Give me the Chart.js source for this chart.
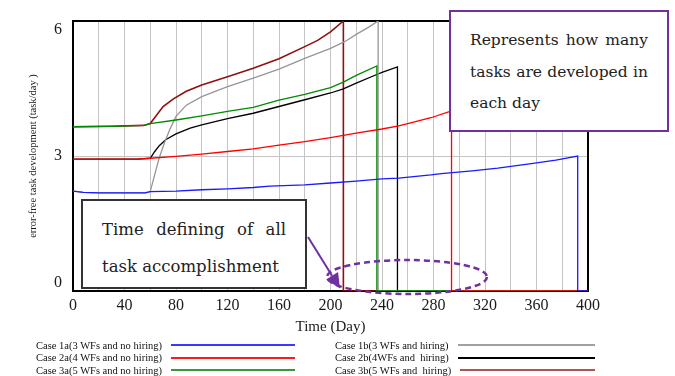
<!DOCTYPE html>
<html>
<head>
<meta charset="utf-8">
<script src="https://cdn.jsdelivr.net/npm/chart.js@4.4.1/dist/chart.umd.min.js"></script>
<style>
  body { margin: 0; background: #fff; }
  #marco { position: relative; width: 675px; height: 376px; overflow: hidden; }
  #grafico { position: absolute; left: 0; top: 0; }
  .nota { position: absolute; background: #fff; box-sizing: border-box; font-family: "DejaVu Serif", serif; color: #222; white-space: nowrap; }
  #nota1 { left: 81px; top: 199px; width: 226px; height: 90px; border: 2px solid #333; padding: 11px 19px 0 19px; font-size: 16.5px; line-height: 36.7px; }
  #nota2 { left: 449px; top: 10px; width: 220px; height: 122px; border: 2px solid #7030a0; padding: 13px 19px 0 19px; font-size: 15.5px; line-height: 31.7px; }
  .justo { text-align: justify; text-align-last: justify; }
  .columna { position: absolute; top: 339px; font-family: "Liberation Serif", serif; font-size: 10.5px; color: #111; }
  .fila { display: flex; align-items: center; height: 12.5px; }
  .fila span { white-space: pre; }
  .fila i { flex: 1; height: 2px; margin-left: 9px; }
</style>
</head>
<body>
<div id="marco">
  <canvas id="grafico" width="675" height="376"></canvas>
  <div class="nota" id="nota1">
    <div class="justo">Time defining of all</div>
    <div>task accomplishment</div>
  </div>
  <div class="nota" id="nota2">
    <div class="justo">Represents how many</div>
    <div class="justo">tasks are developed in</div>
    <div>each day</div>
  </div>
  <div class="columna" id="col1" style="left:36px;width:259px"></div>
  <div class="columna" id="col2" style="left:335px;width:260px"></div>
</div>
<script>
// valores (dia, tareas/dia)
const dias1a = [0, 8, 20, 56, 60, 80, 100, 120, 140, 153, 180, 200, 220, 240, 253, 278, 286, 310, 330, 356, 375, 392, 392, 400];
const val1a = [2.22, 2.19, 2.18, 2.18, 2.21, 2.22, 2.25, 2.27, 2.30, 2.33, 2.36, 2.40, 2.44, 2.49, 2.51, 2.58, 2.61, 2.67, 2.73, 2.83, 2.91, 3.00, 0, 0];

const dias2a = [0, 50, 60, 80, 100, 120, 140, 160, 180, 200, 220, 240, 253, 263, 278, 294, 294, 400];
const val2a = [2.93, 2.93, 2.95, 2.99, 3.04, 3.10, 3.16, 3.24, 3.32, 3.41, 3.51, 3.60, 3.67, 3.74, 3.85, 4.00, 0, 0];

const dias3a = [0, 30, 55, 60, 80, 100, 120, 140, 160, 180, 200, 210, 220, 236, 236, 400];
const val3a = [3.65, 3.66, 3.68, 3.72, 3.80, 3.89, 3.99, 4.08, 4.24, 4.37, 4.52, 4.64, 4.79, 5.00, 0, 0];

const dias1b = [0, 8, 20, 56, 60, 63.5, 67, 71, 75, 80, 88, 100, 120, 140, 160, 180, 200, 211, 221, 230, 237, 237, 400];
const val1b = [2.22, 2.19, 2.18, 2.18, 2.21, 2.59, 2.96, 3.29, 3.58, 3.88, 4.13, 4.32, 4.54, 4.73, 4.93, 5.17, 5.39, 5.54, 5.72, 5.87, 6.00, 0, 0];

const dias2b = [0, 50, 60, 63.5, 67, 72, 80, 91, 100, 120, 140, 160, 180, 200, 210, 220, 235, 240, 252, 252, 400];
const val2b = [2.93, 2.93, 2.95, 3.10, 3.23, 3.36, 3.49, 3.62, 3.69, 3.83, 3.95, 4.10, 4.25, 4.40, 4.49, 4.62, 4.80, 4.86, 4.98, 0, 0];

const dias3b = [0, 30, 55, 60, 65, 70, 78, 88, 100, 120, 140, 160, 180, 190, 200, 210, 210, 400];
const val3b = [3.65, 3.66, 3.68, 3.72, 3.91, 4.10, 4.27, 4.44, 4.58, 4.76, 4.95, 5.16, 5.43, 5.57, 5.76, 6.00, 0, 0];

const etiquetas = [
  'Case 1a(3 WFs and no hiring)',
  'Case 2a(4 WFs and no hiring)',
  'Case 3a(5 WFs and no hiring)',
  'Case 1b(3 WFs and hiring)',
  'Case 2b(4WFs and  hiring)',
  'Case 3b(5 WFs and  hiring)'
];
const colores = ['#1a1aff', '#ff0000', '#008a00', '#969696', '#000000', '#8e1010'];
const coloresLeyenda = ['#3a3aff', '#ff1a1a', '#3c963c', '#a0a0a0', '#000000', '#b05454'];
const ticksY = [0, 3, 6];

const series = [[dias1a, val1a], [dias2a, val2a], [dias3a, val3a], [dias1b, val1b], [dias2b, val2b], [dias3b, val3b]];

function armarPuntos(dias, valores) {
  return dias.map((d, i) => ({ x: d, y: valores[i] }));
}

// leyenda en html (texto a la izquierda, linea a la derecha)
etiquetas.forEach((txt, i) => {
  const col = document.querySelector(i < 3 ? '#col1' : '#col2');
  const fila = document.createElement('div');
  fila.className = 'fila';
  fila.innerHTML = `<span>${txt}</span><i style="background:${coloresLeyenda[i]}"></i>`;
  col.appendChild(fila);
});

const marcoNegro = {
  id: 'marcoNegro',
  beforeDatasetsDraw(chart) {
    const { ctx, chartArea: a } = chart;
    ctx.save();
    ctx.strokeStyle = '#000';
    ctx.lineWidth = 2;
    ctx.strokeRect(a.left, a.top, a.right - a.left, a.bottom - a.top);
    ctx.restore();
  }
};

// etiquetas del eje y metidas hacia adentro (como en el original)
const etiquetasY = {
  id: 'etiquetasY',
  afterDraw(chart) {
    const { ctx, chartArea: a } = chart;
    const y = chart.scales.y;
    ctx.save();
    ctx.font = '16px "Liberation Serif", serif';
    ctx.fillStyle = '#1a1a1a';
    ctx.textAlign = 'right';
    ctx.textBaseline = 'middle';
    ticksY.forEach((v) => {
      let py = y.getPixelForValue(v);
      if (v === y.max) py += 9;
      if (v === y.min) py -= 8;
      ctx.fillText(String(v), a.left - 11, py);
    });
    ctx.restore();
  }
};

const flechaElipse = {
  id: 'flechaElipse',
  afterDatasetsDraw(chart) {
    const ctx = chart.ctx;
    ctx.save();
    ctx.strokeStyle = '#7030a0';
    ctx.fillStyle = '#7030a0';
    // elipse punteada
    ctx.lineWidth = 2.5;
    ctx.setLineDash([6, 4]);
    ctx.beginPath();
    ctx.ellipse(407, 277, 80, 17, 0, 0, Math.PI * 2);
    ctx.stroke();
    // flecha
    ctx.setLineDash([]);
    ctx.lineWidth = 2;
    const x1 = 308, y1 = 237, x2 = 340, y2 = 288.5;
    const ang = Math.atan2(y2 - y1, x2 - x1);
    const largo = 15, ancho = 7;
    const bx = x2 - largo * Math.cos(ang), by = y2 - largo * Math.sin(ang);
    ctx.beginPath();
    ctx.moveTo(x1, y1);
    ctx.lineTo(bx, by);
    ctx.stroke();
    ctx.beginPath();
    ctx.moveTo(x2, y2);
    ctx.lineTo(bx + ancho * Math.sin(ang), by - ancho * Math.cos(ang));
    ctx.lineTo(bx - ancho * Math.sin(ang), by + ancho * Math.cos(ang));
    ctx.closePath();
    ctx.fill();
    ctx.restore();
  }
};

Chart.defaults.font.family = '"Liberation Serif", serif';
Chart.defaults.color = '#1a1a1a';

const datasets = series.map((s, i) => ({
  label: etiquetas[i],
  data: armarPuntos(s[0], s[1]),
  borderColor: colores[i],
  borderWidth: i === 5 ? 1.6 : 1.3,
  pointRadius: 0,
  tension: 0,
  fill: false
}));

const grafico = document.querySelector('#grafico');
new Chart(grafico, {
  type: 'line',
  data: { datasets },
  options: {
    responsive: false,
    animation: false,
    devicePixelRatio: 1,
    layout: { padding: { left: 0, right: 87, top: 21, bottom: 40 } },
    plugins: { legend: { display: false }, tooltip: { enabled: false } },
    scales: {
      x: {
        type: 'linear',
        min: 0,
        max: 400,
        afterFit: (s) => { s.height = 45; },
        grid: { color: '#c4c4c4', lineWidth: 1, drawTicks: false },
        border: { display: false },
        ticks: {
          stepSize: 20,
          autoSkip: false,
          maxRotation: 0,
          padding: 5,
          font: { size: 16 },
          callback: (v) => (v % 40 === 0 ? v : '')
        },
        title: { display: true, text: 'Time (Day)', font: { size: 15 }, padding: { top: 0, bottom: 0 } }
      },
      y: {
        min: 0,
        max: 6,
        afterFit: (s) => { s.width = 73; },
        afterBuildTicks: (s) => { s.ticks = ticksY.map((v) => ({ value: v })); },
        grid: { color: '#c4c4c4', lineWidth: 1, drawTicks: false },
        border: { display: false },
        ticks: { display: false },
        title: {
          display: true,
          text: 'error-free task development (task/day )',
          font: { size: 10.5 },
          padding: { top: 27, bottom: 0 }
        }
      }
    }
  },
  plugins: [marcoNegro, flechaElipse, etiquetasY]
});
</script>
</body>
</html>
